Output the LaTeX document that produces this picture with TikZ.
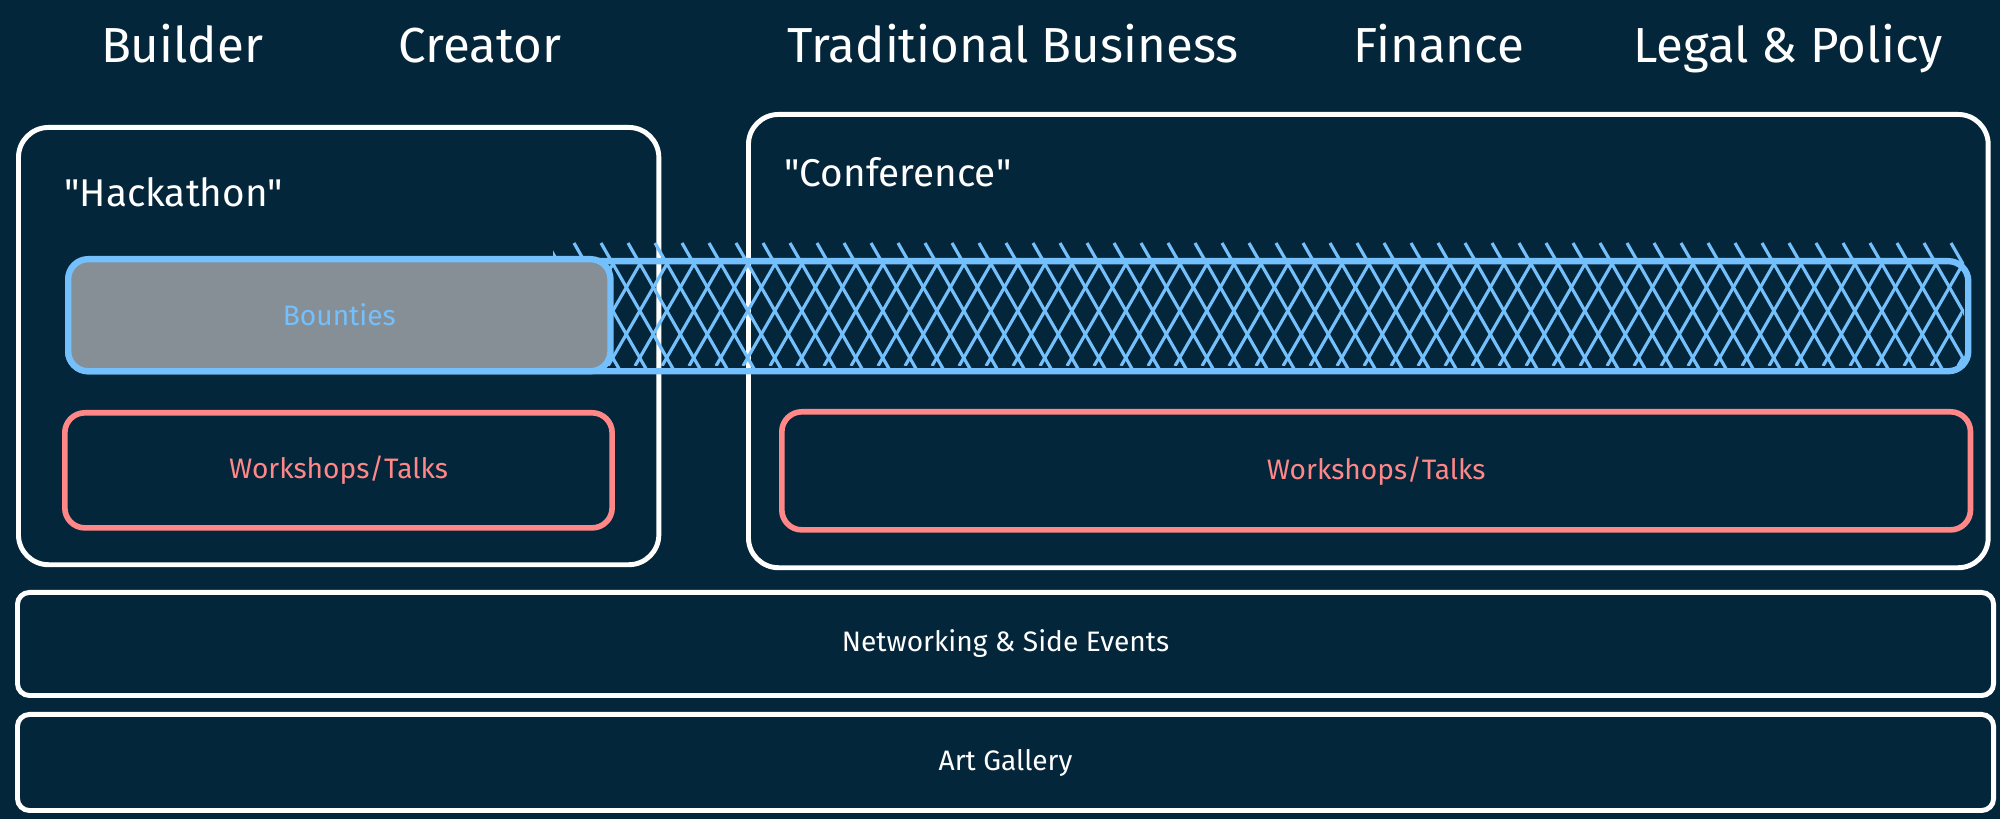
\documentclass[tikz,border=0pt]{standalone}
\usepackage{fontspec}
\setmainfont{Fira Sans}
\definecolor{bg}{HTML}{04263B}
\definecolor{sblue}{HTML}{74C0FC}
\definecolor{sred}{HTML}{FF8787}
\definecolor{sgray}{HTML}{868E96}
\begin{document}
\begin{tikzpicture}[x=0.01cm,y=-0.01cm,
  wbox/.style={draw=white,line width=1.4pt,rounded corners=0.3cm,anchor=north west,inner sep=0pt},
  bbox/.style={draw=sblue,line width=1.8pt,rounded corners=0.2cm,anchor=north west,inner sep=0pt},
  rbox/.style={draw=sred,line width=1.6pt,rounded corners=0.2cm,anchor=north west,inner sep=0pt},
  lowbox/.style={draw=white,line width=1.4pt,rounded corners=0.12cm,anchor=north west,inner sep=0pt},
  title/.style={text=white,font=\fontsize{14}{17}\selectfont,anchor=base},
  section/.style={text=white,font=\fontsize{11}{13}\selectfont,anchor=base west},
  small/.style={font=\fontsize{8}{10}\selectfont},
  hatch/.style={draw=sblue,line width=0.9pt}
]
\fill[bg] (0,0) rectangle (2000,819);
\useasboundingbox (0,0) rectangle (2000,819);

% titles
\node[title] (tbuilder) at (182,63) {Builder};
\node[title] (tcreator) at (480,63) {Creator};
\node[title] (ttrad) at (1013,63) {Traditional Business};
\node[title] (tfin) at (1439,63) {Finance};
\node[title] (tlegal) at (1788,63) {Legal \& Policy};

% big frames
\node[wbox,minimum width=6.40cm,minimum height=4.37cm] (hack) at (16,125) {};
\node[wbox,minimum width=12.39cm,minimum height=4.53cm] (conf) at (746,112) {};
\node[section] (lhack) at (52,207) {\textquotedbl Hackathon\textquotedbl};
\node[section] (lconf) at (772,187) {\textquotedbl Conference\textquotedbl};

% long hatched bounty band
\node[bbox,minimum width=18.99cm,minimum height=1.10cm] (band) at (65,258) {};
\begin{scope}
  \clip (553,243) rectangle (1964,374);
  \foreach \i in {0,...,55} {
    \draw[hatch] ({520+27*\i},243) -- ({595+27*\i},374);
  }
\end{scope}
\begin{scope}
  \clip (553,262) rectangle (1962,366);
  \foreach \i in {0,...,55} {
    \draw[hatch] ({500+27*\i},366) -- ({560+27*\i},262);
  }
\end{scope}
\node[bbox,fill=sgray,minimum width=5.42cm,minimum height=1.12cm] (bounty) at (65,256) {};
\node[small,text=sblue] (lbounty) at (bounty.center) {Bounties};

% workshops
\node[rbox,minimum width=5.47cm,minimum height=1.15cm] (wsl) at (62,410) {};
\node[small,text=sred] (lwsl) at (wsl.center) {Workshops/Talks};
\node[rbox,minimum width=11.88cm,minimum height=1.18cm] (wsr) at (779,409) {};
\node[small,text=sred] (lwsr) at (wsr.center) {Workshops/Talks};

% bottom bands
\node[lowbox,minimum width=19.75cm,minimum height=1.03cm] (net) at (15,590) {};
\node[small,text=white] (lnet) at (net.center) {Networking \& Side Events};
\node[lowbox,minimum width=19.75cm,minimum height=0.96cm] (art) at (15,712) {};
\node[small,text=white] (lart) at (art.center) {Art Gallery};
\end{tikzpicture}
\end{document}
